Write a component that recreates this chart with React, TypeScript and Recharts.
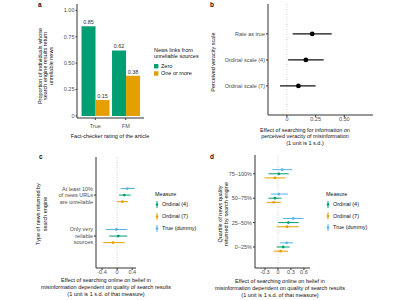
import React from 'react';
import {
  BarChart, Bar, XAxis, YAxis, LabelList, ScatterChart, Scatter, ErrorBar, ReferenceLine, Customized,
} from 'recharts';

const FONT = '"Liberation Sans", Arial, Helvetica, sans-serif';
const AXIS = '#333333';
const TICK_TXT = '#4d4d4d';
const TITLE_TXT = '#111111';
const FS = 5.5;
const GREEN = '#009E73';
const ORANGE = '#E69F00';
const BLUE = '#56B4E9';

// ---------- Panel a ----------
const factCategories = ['True', 'FM'];
const zeroShare = [0.85, 0.62];
const oneOrMoreShare = [0.15, 0.38];
const sourceLegend = ['Zero', 'One or more'];
const shareTicks = [0, 0.25, 0.5, 0.75, 1];

// ---------- Panel b ----------
const veracityScales = ['Rate as true', 'Ordinal scale (4)', 'Ordinal scale (7)'];
const veracityEst = [0.22, 0.165, 0.1];
const veracityLo = [0.05, 0.01, -0.06];
const veracityHi = [0.39, 0.32, 0.25];
const veracityTicks = [0, 0.25, 0.5];

// ---------- Panel c ----------
const cGroups = [['At least 10%', 'of news URLs', 'are unreliable'], ['Only very', 'reliable', 'sources']];
const measures = ['Ordinal (4)', 'Ordinal (7)', 'True (dummy)'];
const measureColors = [GREEN, ORANGE, BLUE];
const cOrd4Est = [0.19, 0.03];
const cOrd4Lo = [0.05, -0.21];
const cOrd4Hi = [0.36, 0.27];
const cOrd7Est = [0.14, -0.11];
const cOrd7Lo = [0.0, -0.37];
const cOrd7Hi = [0.29, 0.2];
const cTrueEst = [0.27, -0.02];
const cTrueLo = [0.09, -0.3];
const cTrueHi = [0.47, 0.27];
const cTicks = [-0.4, 0, 0.4];

// ---------- Panel d ----------
const dGroups = ['75–100%', '50–75%', '25–50%', '0–25%'];
const dOrd4Est = [0.02, -0.07, 0.24, 0.12];
const dOrd4Lo = [-0.22, -0.22, 0.01, -0.03];
const dOrd4Hi = [0.25, 0.08, 0.48, 0.27];
const dOrd7Est = [-0.07, -0.1, 0.21, 0.06];
const dOrd7Lo = [-0.31, -0.26, -0.03, -0.1];
const dOrd7Hi = [0.17, 0.07, 0.48, 0.23];
const dTrueEst = [0.1, 0.02, 0.35, 0.2];
const dTrueLo = [-0.13, -0.16, 0.11, 0.05];
const dTrueHi = [0.33, 0.23, 0.59, 0.35];
const dTicks = [-0.3, 0, 0.3, 0.6];

const cXTitle = ['Effect of searching online on belief in', 'misinformation dependent on quality of search results', '(1 unit is 1 s.d. of that measure)'];

// ---------- helpers ----------
type TB = { x: number; y: number; lines: string[]; size?: number; anchor?: string; rotate?: boolean; lh?: number; fill?: string; weight?: string | number };
const TextBlock = ({ x, y, lines, size = FS, anchor = 'middle', rotate = false, lh = 6.5, fill = TITLE_TXT, weight }: TB) => {
  const n = lines.length;
  const start = -((n - 1) / 2) * lh + size * 0.35;
  return (
    <text
      x={x}
      y={y}
      transform={rotate ? `rotate(-90 ${x} ${y})` : undefined}
      textAnchor={anchor as any}
      fontSize={size}
      fill={fill}
      fontWeight={weight as any}
      fontFamily={FONT}
    >
      {lines.map((l, k) => (
        <tspan key={k} x={x} y={y + start + k * lh}>{l}</tspan>
      ))}
    </text>
  );
};

const fmt2 = (v: number) => (v === 0 ? '0' : v.toFixed(2));
const fmt1 = (v: number) => (v === 0 ? '0' : String(v));

const buildRows = (est: number[], lo: number[], hi: number[], n: number, off: number) =>
  est.map((e, i) => ({ x: e, y: n - i + off, err: [e - lo[i], hi[i] - e] }));

const dot = (r: number, fill: string) => (p: any) => <circle cx={p.cx} cy={p.cy} r={r} fill={fill} />;

const makeTick = (labelOf: (v: number) => string[], lh = 6.5) => (p: any) => (
  <TextBlock x={p.x} y={p.y} lines={labelOf(p.payload.value)} anchor="end" lh={lh} fill={TICK_TXT} />
);

const MeasureLegend = ({ x, y, gap }: { x: number; y: number; gap: number }) => (
  <g>
    <TextBlock x={x - 2} y={y} lines={['Measure']} anchor="start" />
    {measures.map((m, i) => {
      const cy = y + 10.5 + i * gap;
      return (
        <g key={m}>
          <line x1={x} x2={x} y1={cy - 3.5} y2={cy + 3.5} stroke={measureColors[i]} strokeWidth={1} />
          <circle cx={x} cy={cy} r={1.3} fill={measureColors[i]} />
          <TextBlock x={x + 5} y={cy} lines={[m]} anchor="start" />
        </g>
      );
    })}
  </g>
);

const tickStyle = { fontSize: FS, fill: TICK_TXT, fontFamily: FONT };

// ---------- Panels ----------
const PanelA = () => {
  const data = factCategories.map((c, i) => ({ cat: c, zero: zeroShare[i], one: oneOrMoreShare[i] }));
  const series = [
    { key: 'zero', color: GREEN },
    { key: 'one', color: ORANGE },
  ];
  return (
    <BarChart width={200} height={150} data={data} margin={{ top: 4, right: 56, bottom: 0, left: 0 }} barCategoryGap="5%" barGap={0}>
      <XAxis dataKey="cat" height={32} tickSize={2} tickMargin={4} stroke={AXIS} tick={tickStyle} padding={{ left: 3, right: 3 }} />
      <YAxis width={77} type="number" domain={[-0.02, 1.06]} ticks={shareTicks} tickFormatter={fmt2} tickSize={1.5} tickMargin={1} stroke={AXIS} tick={tickStyle} />
      {series.map((s) => (
        <Bar key={s.key} dataKey={s.key} fill={s.color} isAnimationActive={false}>
          <LabelList dataKey={s.key} position="top" offset={2} fontSize={FS} fill="#333" formatter={(v: any) => Number(v).toFixed(2)} />
        </Bar>
      ))}
      <Customized
        component={() => (
          <g>
            <TextBlock x={38} y={5} lines={['a']} anchor="start" size={6.5} weight="bold" />
            <TextBlock x={45.5} y={66} lines={['Proportion of individuals whose', 'search engine results return', 'unreliable news']} rotate lh={5.6} />
            <TextBlock x={110} y={136} lines={['Fact-checker rating of the article']} />
            <TextBlock x={154} y={53} lines={['News links from', 'unreliable sources']} anchor="start" lh={6} />
            {sourceLegend.map((l, i) => (
              <g key={l}>
                <rect x={154} y={64 + i * 7.3} width={4.4} height={4.4} fill={series[i].color} />
                <TextBlock x={161} y={66.2 + i * 7.3} lines={[l]} anchor="start" />
              </g>
            ))}
          </g>
        )}
      />
    </BarChart>
  );
};

const PanelB = () => {
  const n = veracityScales.length;
  const rows = veracityEst.map((e, i) => ({ x: e, y: n - i, err: [e - veracityLo[i], veracityHi[i] - e] }));
  return (
    <ScatterChart width={200} height={150} margin={{ top: 4, right: 27, bottom: 0, left: 0 }}>
      <XAxis type="number" dataKey="x" domain={[-0.165, 0.75]} ticks={veracityTicks} tickFormatter={fmt2} height={35} tickSize={2} tickMargin={0.5} stroke={AXIS} tick={tickStyle} />
      <YAxis type="number" dataKey="y" domain={[-0.12, 4.15]} ticks={[3, 2, 1]} tick={makeTick((v) => [veracityScales[n - v]])} width={68} tickSize={2} tickMargin={1} stroke={AXIS} />
      <ReferenceLine x={0} stroke="#c8c8c8" strokeDasharray="1 1.5" strokeWidth={0.8} />
      <Scatter data={rows} fill="#000" isAnimationActive={false} shape={dot(2.4, '#000')}>
        <ErrorBar dataKey="err" direction="x" width={0} stroke="#111" strokeWidth={1.3} isAnimationActive={false} />
      </Scatter>
      <Customized
        component={() => (
          <g>
            <TextBlock x={10} y={5} lines={['b']} anchor="start" size={6.5} weight="bold" />
            <TextBlock x={13} y={62} lines={['Perceived veracity scale']} rotate />
            <TextBlock x={105} y={136.5} lines={['Effect of searching for information on', 'perceived veracity of misinformation', '(1 unit is 1 s.d.)']} lh={6.4} />
          </g>
        )}
      />
    </ScatterChart>
  );
};

const PanelC = () => {
  const n = cGroups.length;
  const off = 0.16;
  const sets = [
    buildRows(cOrd4Est, cOrd4Lo, cOrd4Hi, n, 0),
    buildRows(cOrd7Est, cOrd7Lo, cOrd7Hi, n, -off),
    buildRows(cTrueEst, cTrueLo, cTrueHi, n, off),
  ];
  return (
    <ScatterChart width={200} height={150} margin={{ top: 7, right: 64, bottom: 0, left: 0 }}>
      <XAxis type="number" dataKey="x" domain={[-0.56, 0.5]} ticks={cTicks} tickFormatter={fmt1} height={32} tickSize={2} tickMargin={0.5} stroke={AXIS} tick={tickStyle} />
      <YAxis type="number" dataKey="y" domain={[0.22, 2.93]} ticks={[2, 1]} tick={makeTick((v) => cGroups[Math.round(n - v)] || [])} width={96} tickSize={2} tickMargin={1} stroke={AXIS} />
      <ReferenceLine x={0} stroke="#c8c8c8" strokeDasharray="1 1.5" strokeWidth={0.8} />
      {sets.map((rows, i) => (
        <Scatter key={measures[i]} data={rows} fill={measureColors[i]} isAnimationActive={false} shape={dot(1.4, measureColors[i])}>
          <ErrorBar dataKey="err" direction="x" width={0} stroke={measureColors[i]} strokeWidth={1} isAnimationActive={false} />
        </Scatter>
      ))}
      <Customized
        component={() => (
          <g>
            <TextBlock x={39} y={7} lines={['c']} anchor="start" size={6.5} weight="bold" />
            <TextBlock x={42} y={64} lines={['Type of news returned by', 'search engine']} rotate lh={7} />
            <TextBlock x={106} y={137} lines={cXTitle} lh={7.3} />
            <MeasureLegend x={157} y={44} gap={12} />
          </g>
        )}
      />
    </ScatterChart>
  );
};

const PanelD = () => {
  const n = dGroups.length;
  const off = 0.17;
  const sets = [
    buildRows(dOrd4Est, dOrd4Lo, dOrd4Hi, n, 0),
    buildRows(dOrd7Est, dOrd7Lo, dOrd7Hi, n, -off),
    buildRows(dTrueEst, dTrueLo, dTrueHi, n, off),
  ];
  return (
    <ScatterChart width={200} height={150} margin={{ top: 5, right: 90, bottom: 0, left: 0 }}>
      <XAxis type="number" dataKey="x" domain={[-0.53, 0.74]} ticks={dTicks} tickFormatter={fmt1} height={32} tickSize={2} tickMargin={0.5} stroke={AXIS} tick={tickStyle} />
      <YAxis type="number" dataKey="y" domain={[0.14, 4.77]} ticks={[4, 3, 2, 1]} tick={makeTick((v) => [dGroups[n - v]])} width={55} tickSize={2} tickMargin={1} stroke={AXIS} />
      <ReferenceLine x={0} stroke="#c8c8c8" strokeDasharray="1 1.5" strokeWidth={0.8} />
      {sets.map((rows, i) => (
        <Scatter key={measures[i]} data={rows} fill={measureColors[i]} isAnimationActive={false} shape={dot(1.4, measureColors[i])}>
          <ErrorBar dataKey="err" direction="x" width={0} stroke={measureColors[i]} strokeWidth={1} isAnimationActive={false} />
        </Scatter>
      ))}
      <Customized
        component={() => (
          <g>
            <TextBlock x={10} y={7} lines={['d']} anchor="start" size={6.5} weight="bold" />
            <TextBlock x={22.7} y={64} lines={['Quartile of news quality', 'returned by search engine']} rotate lh={6} />
            <TextBlock x={80} y={138} lines={cXTitle} lh={7} />
            <MeasureLegend x={128} y={44} gap={11.5} />
          </g>
        )}
      />
    </ScatterChart>
  );
};

export default function App() {
  const cell = (left: number, top: number): React.CSSProperties => ({ position: 'absolute', left, top, width: 200, height: 150 });
  return (
    <div style={{ position: 'absolute', left: 0, top: 0, width: 400, height: 300, background: '#fff', fontFamily: FONT, overflow: 'hidden' }}>
      <div style={cell(0, 0)}><PanelA /></div>
      <div style={cell(200, 0)}><PanelB /></div>
      <div style={cell(0, 150)}><PanelC /></div>
      <div style={cell(200, 150)}><PanelD /></div>
    </div>
  );
}
